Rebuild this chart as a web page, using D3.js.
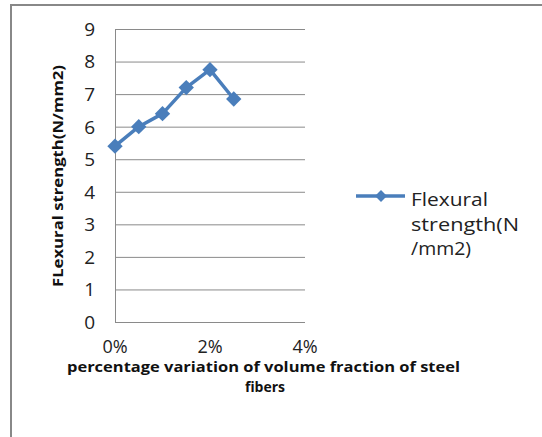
<html>
<head>
<style>
body{margin:0;background:#fff;}
text{font-family:"Open Sans","Liberation Sans",sans-serif;}
</style>
</head>
<body>
<svg id="chart" width="542" height="437"></svg>
<script src="https://d3js.org/d3.v7.min.js"></script>
<script>
var fractions = [0, 0.005, 0.01, 0.015, 0.02, 0.025];
var strength = [5.4, 6.0, 6.4, 7.2, 7.75, 6.85];
var yTicks = [0, 1, 2, 3, 4, 5, 6, 7, 8, 9];
var xTicks = [0, 0.02, 0.04];
var seriesName = ["Flexural", "strength(N", "/mm2)"];

var svg = d3.select('#chart');
var blue = '#4a7ebb';

// outer frame (only top and left visible)
svg.append('line').attr('x1',11).attr('y1',5).attr('x2',542).attr('y2',5)
	.attr('stroke','#888').attr('stroke-width',2);
svg.append('line').attr('x1',11).attr('y1',4).attr('x2',11).attr('y2',437)
	.attr('stroke','#888').attr('stroke-width',2);

var x = d3.scaleLinear().domain([0,0.04]).range([115,305]);
var y = d3.scaleLinear().domain([0,9]).range([322,29]);

// gridlines
svg.append('g').selectAll('line').data(yTicks).enter().append('line')
	.attr('x1',115).attr('x2',305)
	.attr('y1',function(d){return y(d)+0.5;}).attr('y2',function(d){return y(d)+0.5;})
	.attr('stroke','#8a8a8a').attr('stroke-width',1);
svg.append('line').attr('x1',115.5).attr('x2',115.5).attr('y1',y(9)).attr('y2',y(0)+0.5)
	.attr('stroke','#8a8a8a');

// y tick labels
svg.append('g').selectAll('text').data(yTicks).enter().append('text')
	.attr('x',95).attr('y',function(d){return y(d);})
	.attr('dy','0.36em').attr('text-anchor','end')
	.style('font-size','19px').style('fill','#222')
	.text(function(d){return d;});

// x tick labels
svg.append('g').selectAll('text').data(xTicks).enter().append('text')
	.attr('x',function(d){return x(d);}).attr('y',353)
	.attr('text-anchor','middle')
	.style('font-size','18px').style('fill','#222')
	.text(d3.format('.0%'));

// axis titles
svg.append('text').attr('x',263.5).attr('y',372).attr('text-anchor','middle')
	.attr('textLength',393).attr('lengthAdjust','spacingAndGlyphs')
	.style('font-size','14px').style('font-weight','bold').style('fill','#111')
	.text('percentage variation of volume fraction of steel');
svg.append('text').attr('x',265).attr('y',392).attr('text-anchor','middle')
	.style('font-size','14px').style('font-weight','bold').style('fill','#111')
	.text('fibers');
svg.append('text').attr('transform','translate(63,176) rotate(-90)')
	.attr('text-anchor','middle')
	.attr('textLength',222).attr('lengthAdjust','spacingAndGlyphs')
	.style('font-size','15px').style('font-weight','bold').style('fill','#111')
	.text('FLexural strength(N/mm2)');

// series
var pts = fractions.map(function(f,i){return [f,strength[i]];});
svg.append('path').datum(pts)
	.attr('d',d3.line().x(function(d){return x(d[0]);}).y(function(d){return y(d[1]);}))
	.attr('fill','none').attr('stroke',blue).attr('stroke-width',3.5)
	.attr('stroke-linejoin','round');
var diamond = d3.symbol().type(d3.symbolDiamond2).size(150);
svg.append('g').selectAll('path').data(pts).enter().append('path')
	.attr('d',diamond)
	.attr('transform',function(d){return 'translate('+x(d[0])+','+y(d[1])+')';})
	.attr('fill',blue);

// legend
svg.append('line').attr('x1',356).attr('x2',405).attr('y1',196).attr('y2',196)
	.attr('stroke',blue).attr('stroke-width',3.5);
svg.append('path').attr('d',d3.symbol().type(d3.symbolDiamond2).size(90))
	.attr('transform','translate(381,196)').attr('fill',blue);
var legendW = [77, 108, 60];
svg.append('g').selectAll('text').data(seriesName).enter().append('text')
	.attr('x',411).attr('y',function(d,i){return 206+i*24.5;})
	.attr('textLength',function(d,i){return legendW[i];})
	.attr('lengthAdjust','spacingAndGlyphs')
	.style('font-size','18px').style('fill','#222')
	.text(function(d){return d;});
</script>
</body>
</html>
